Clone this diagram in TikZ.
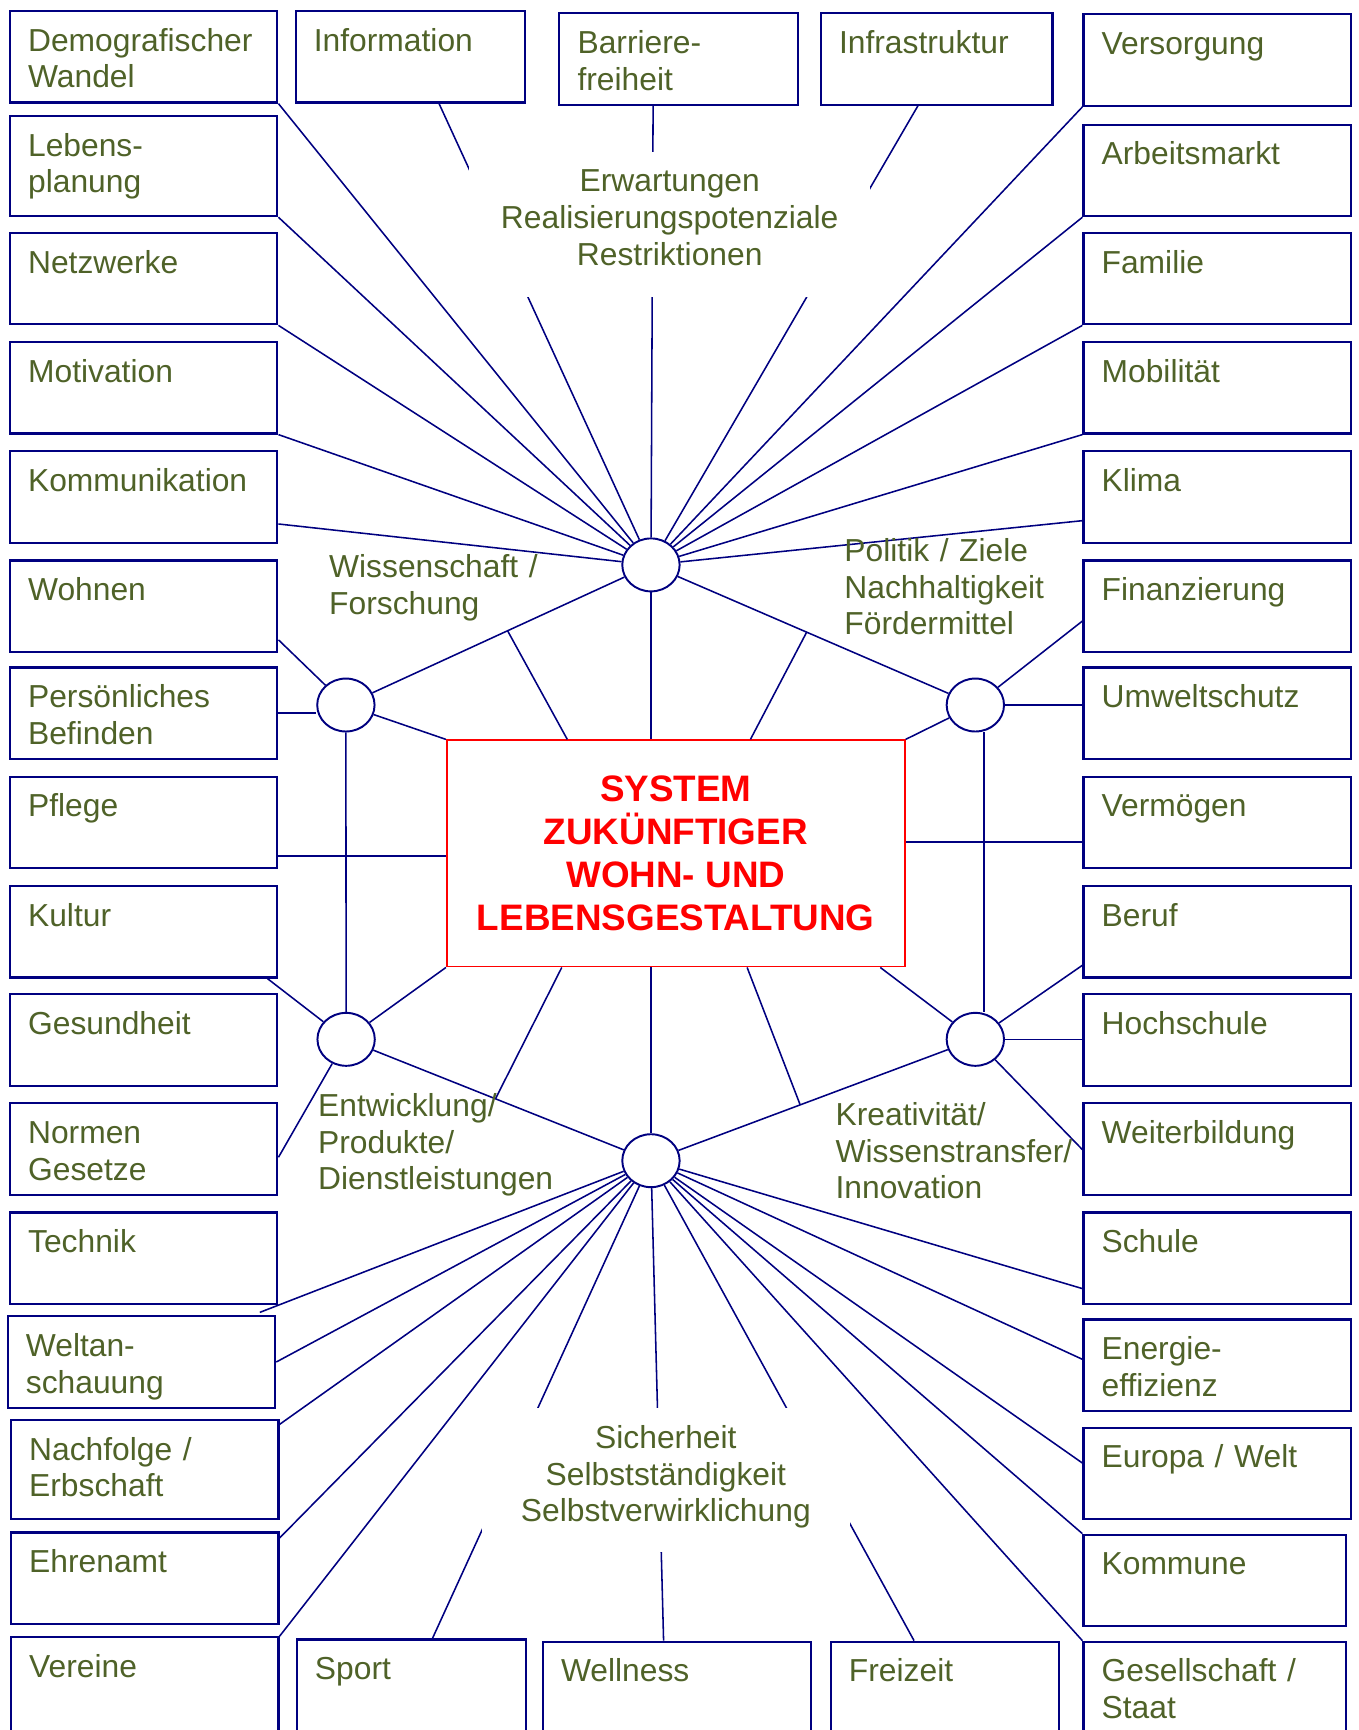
\documentclass[tikz,border=0pt]{standalone}
\usepackage{fontspec}
\setmainfont{Liberation Sans}
\usetikzlibrary{shapes.geometric,calc}

\definecolor{linie}{RGB}{0,0,128}
\definecolor{schrift}{RGB}{79,98,40}

\tikzset{
  feld/.style={draw=linie, line width=1.1pt, anchor=north west,
    inner xsep=0.33cm, inner ysep=0.3cm, text width=4.19cm, align=left,
    text height=0.43cm, text depth=0.63cm, text=schrift,
    font=\fontsize{16.4}{18.9}\selectfont},
  unten/.style={text depth=1cm},
  knoten/.style={ellipse, draw=linie, line width=1pt, fill=white,
    minimum width=1.04cm, minimum height=0.96cm, inner sep=0pt},
  thema/.style={text=schrift, font=\fontsize{16.4}{18.9}\selectfont,
    inner sep=0pt, text width=5.5cm, align=left, anchor=base west},
}

\begin{document}
\begin{tikzpicture}[x=0.02cm,y=-0.02cm]
        \useasboundingbox (0,0) rectangle (1231,1568);

        \begin{scope}[every node/.style={feld}]
          \node (demo)    at (8,9)     {Demografischer\\Wandel};
          \node[text depth=0.79cm] (lebens) at (8,104) {Lebens-\\planung};
          \node (netz)    at (8,210)   {Netzwerke};
          \node (moti)    at (8,309)   {Motivation};
          \node (komm)    at (8,408)   {Kommunikation};
          \node (wohnen)  at (8,507)   {Wohnen};
          \node (pers)    at (8,604)   {Persönliches\\Befinden};
          \node (pflege)  at (8,703)   {Pflege};
          \node (kultur)  at (8,802)   {Kultur};
          \node (gesund)  at (8,900)   {Gesundheit};
          \node (normen)  at (8,999)   {Normen\\Gesetze};
          \node (technik) at (8,1098)  {Technik};
          \node (welt)    at (6,1192)  {Weltan-\\schauung};
          \node[text depth=0.77cm] (nachf) at (9,1286) {Nachfolge /\\Erbschaft};
          \node (ehren)   at (9,1388)  {Ehrenamt};
          \node[unten] (vereine) at (9,1483) {Vereine};

          \node (vers)    at (981,12)   {Versorgung};
          \node (arbeit)  at (981,112)  {Arbeitsmarkt};
          \node (familie) at (981,210)  {Familie};
          \node (mobil)   at (981,309)  {Mobilität};
          \node (klima)   at (981,408)  {Klima};
          \node (finanz)  at (981,507)  {Finanzierung};
          \node (umwelt)  at (981,604)  {Umweltschutz};
          \node (verm)    at (981,703)  {Vermögen};
          \node (beruf)   at (981,802)  {Beruf};
          \node (hoch)    at (981,900)  {Hochschule};
          \node (weiter)  at (981,999)  {Weiterbildung};
          \node (schule)  at (981,1098) {Schule};
          \node (energie) at (981,1195) {Energie-\\effizienz};
          \node (europa)  at (981,1293) {Europa / Welt};
          \node[text width=4.1cm] (kommune) at (981,1390) {Kommune};
          \node[unten, text width=4.1cm] (gesell) at (981,1487) {Gesellschaft /\\Staat};

          \node[text width=3.5cm]  (info)  at (267,9)    {Information};
          \node[text width=3.66cm] (barr)  at (506,11)   {Barriere-\\freiheit};
          \node[text width=3.54cm] (infra) at (743,11)   {Infrastruktur};
          \node[unten, text width=3.5cm]  (sport) at (268,1485) {Sport};
          \node[unten, text width=4.2cm]  (well)  at (491,1487) {Wellness};
          \node[unten, text width=3.48cm] (frei)  at (752,1487) {Freizeit};
        \end{scope}

        \node[draw=red, line width=1pt, minimum width=8.3cm, minimum height=4.1cm,
          text=red, align=center, font=\bfseries\fontsize{19}{22.2}\selectfont]
          (zentrum) at (612.5,773.5) {SYSTEM\\ZUKÜNFTIGER\\WOHN- UND\\LEBENSGESTALTUNG};

        \begin{scope}[every node/.style={knoten}]
          \node (ko)  at (590,512)   {};
          \node (kl)  at (313.5,639) {};
          \node (kr)  at (884,639)   {};
          \node (klu) at (313.7,942) {};
          \node (kru) at (884,942)   {};
          \node (ku)  at (590,1052)  {};
        \end{scope}

        \coordinate (pfl) at ($(pflege.south east)+(0,-12)$);
        \coordinate (vrm) at ($(verm.south west)+(0,-25)$);

        \begin{scope}[every edge/.style={draw, linie, line width=0.8pt}]
          \path (ko) edge (demo.south east);
          \path (ko) edge (lebens.south east);
          \path (ko) edge (netz.south east);
          \path (ko) edge (moti.south east);
          \path (ko) edge ($(komm.south east)+(0,-18)$);
          \path (ko) edge ($(info.south)+(26,0)$);
          \path (ko) edge ($(barr.south)+(-23,0)$);
          \path (ko) edge ($(infra.south)+(-17,0)$);
          \path (ko) edge (vers.south west);
          \path (ko) edge (arbeit.south west);
          \path (ko) edge (familie.south west);
          \path (ko) edge (mobil.south west);
          \path (ko) edge ($(klima.south west)+(0,-21)$);
          \path (ko) edge (kl);
          \path (ko) edge (kr);
          \path (ko) edge (ko |- zentrum.north);

          \path (kl) edge ($(wohnen.south east)+(0,-12)$);
          \path (pers.east) edge (pers.east -| kl.west);
          \path (kl) edge (zentrum.north west);
          \path (kl) edge (klu);
          \path (pfl) edge (pfl -| zentrum.west);

          \path (kr) edge ($(finanz.south west)+(0,-29)$);
          \path (kr) edge (kr -| umwelt.west);
          \path (kr) edge (zentrum.north east);
          \path ($(kr.south)+(8,0)$) edge ($(kru.north)+(8,0)$);
          \path (vrm) edge (vrm -| zentrum.east);

          \path (klu) edge ($(kultur.south east)+(-10,0)$);
          \path (klu) edge ($(normen.south east)+(0,-35)$);
          \path (klu) edge (zentrum.south west);
          \path (klu) edge (ku);

          \path (kru) edge ($(beruf.south west)+(0,-12)$);
          \path (kru) edge (kru -| hoch.west);
          \path (kru) edge ($(weiter.south west)+(0,-42)$);
          \path (kru) edge ($(zentrum.south east)+(-23,0)$);
          \path (kru) edge (ku);

          \path (ku) edge (ku |- zentrum.south);
          \path (ku) edge ($(ku)!1.05!(technik.south east)$);
          \path (ku) edge (welt.east);
          \path (ku) edge ($(nachf.north east)+(0,5)$);
          \path (ku) edge ($(ehren.north east)+(0,6)$);
          \path (ku) edge (vereine.north east);
          \path (ku) edge ($(sport.north)+(19,0)$);
          \path (ku) edge ($(well.north)+(-12,0)$);
          \path (ku) edge ($(frei.north)+(-28,0)$);
          \path (ku) edge (gesell.north west);
          \path (ku) edge (kommune.north west);
          \path (ku) edge ($(europa.north west)+(0,33)$);
          \path (ku) edge ($(energie.north west)+(0,37)$);
          \path (ku) edge ($(schule.south west)+(0,-15)$);

          \path ($(ko)!0.47!(kl)$) edge ($(zentrum.north west)+(110,0)$);
          \path ($(ko)!0.48!(kr)$) edge ($(zentrum.north west)+(276,0)$);
          \path ($(zentrum.south west)+(105,0)$) edge ($(klu)!0.49!(ku)$);
          \path ($(zentrum.south west)+(273,0)$) edge ($(kru)!0.54!(ku)$);
        \end{scope}

        \begin{scope}[every node/.style={thema}]
          \node (wiss)    at (298,523.5) {Wissenschaft /\\Forschung};
          \node (politik) at (765,509)   {Politik / Ziele\\Nachhaltigkeit\\Fördermittel};
          \node (entw)    at (288,1012)  {Entwicklung/\\Produkte/\\Dienstleistungen};
          \node (kreativ) at (757,1020)  {Kreativität/\\Wissenstransfer/\\Innovation};
          \node[fill=white, align=center, anchor=base, text width=7.28cm,
            text height=0.72cm, text depth=1.9cm] (erw) at (607,174)
            {Erwartungen\\Realisierungspotenziale\\Restriktionen};
          \node[fill=white, align=center, anchor=base, text width=6.66cm,
            text height=0.74cm, text depth=1.88cm] (sicher) at (603.5,1313)
            {Sicherheit\\Selbstständigkeit\\Selbstverwirklichung};
        \end{scope}

      \end{tikzpicture}
\end{document}
